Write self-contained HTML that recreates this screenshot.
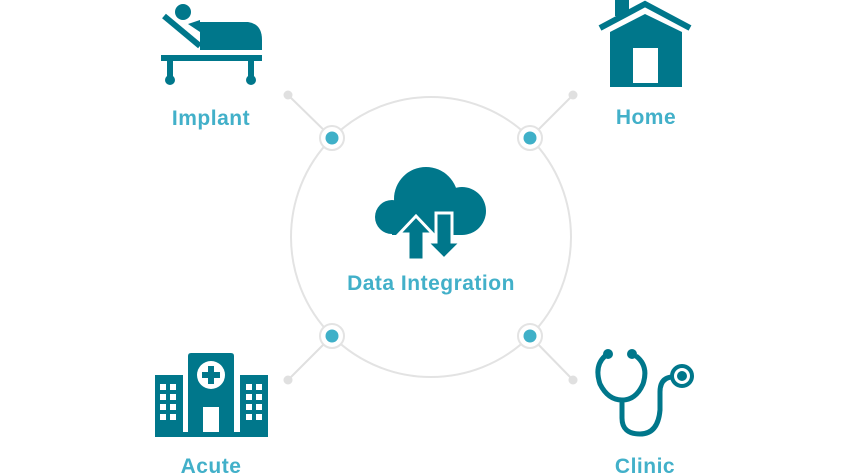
<!DOCTYPE html>
<html><head><style>body{margin:0;background:#fff}svg{display:block}text{font-family:"Liberation Sans",sans-serif;font-weight:bold;fill:#42b0c9;font-size:21px;letter-spacing:0.5px;text-anchor:middle}</style></head>
<body>
<svg width="850" height="474" viewBox="0 0 850 474">
<circle cx="431" cy="237" r="140" fill="none" stroke="#e3e3e3" stroke-width="2"/>
<g stroke="#e0e0e0" stroke-width="2">
<line x1="288" y1="95" x2="332" y2="138"/><line x1="573" y1="95" x2="530" y2="138"/>
<line x1="288" y1="380" x2="332" y2="336"/><line x1="573" y1="380" x2="530" y2="336"/>
</g>
<g fill="#e0e0e0"><circle cx="288" cy="95" r="4.5"/><circle cx="573" cy="95" r="4.5"/><circle cx="288" cy="380" r="4.5"/><circle cx="573" cy="380" r="4.5"/></g>
<g fill="#fff" stroke="#e3e3e3" stroke-width="2"><circle cx="332" cy="138" r="12"/><circle cx="530" cy="138" r="12"/><circle cx="332" cy="336" r="12"/><circle cx="530" cy="336" r="12"/></g>
<g fill="#3fb0c8"><circle cx="332" cy="138" r="6.5"/><circle cx="530" cy="138" r="6.5"/><circle cx="332" cy="336" r="6.5"/><circle cx="530" cy="336" r="6.5"/></g>
<g fill="#00778b">
<circle cx="183" cy="12" r="8"/>
<line x1="164" y1="16" x2="200" y2="46" stroke="#00778b" stroke-width="6"/>
<path d="M188 24 L200 20 L200 32 Z"/>
<path d="M200 22 H248 Q262 24 262 40 V50 H200 Z"/>
<rect x="161" y="55" width="101" height="6"/>
<rect x="167" y="61" width="6" height="17"/><circle cx="170" cy="80" r="5"/>
<rect x="248" y="61" width="6" height="17"/><circle cx="251" cy="80" r="5"/>
<rect x="615" y="0" width="14" height="16"/>
<polyline points="600,28 645,4 690,28" fill="none" stroke="#00778b" stroke-width="6"/>
<path d="M610 32 L645 14 L682 32 V87 H610 Z"/>
<rect x="633" y="48" width="25" height="35" fill="#fff"/>
<circle cx="392" cy="217" r="17"/><circle cx="426" cy="199" r="32"/><circle cx="462" cy="211" r="24"/>
<rect x="392" y="205" width="70" height="30"/>
<path d="M399 234 L416 216 L433 234 H424 V260 H408 V234 Z" stroke="#fff" stroke-width="3"/>
<path d="M436 213 H452 V242 H461 L444 259 L427 242 H436 Z" stroke="#fff" stroke-width="3"/>
<path d="M188 356 Q188 353 191 353 H231 Q234 353 234 356 V432 H188 Z"/>
<rect x="155" y="375" width="28" height="62"/><rect x="240" y="375" width="28" height="62"/>
<rect x="183" y="432" width="57" height="5"/>
<circle cx="211" cy="375" r="14" fill="#fff"/>
<rect x="208" y="366" width="6" height="18"/><rect x="202" y="372" width="18" height="6"/>
<rect x="203" y="407" width="16" height="25" fill="#fff"/>
<g fill="#fff">
<rect x="160" y="384" width="6" height="6"/><rect x="170" y="384" width="6" height="6"/>
<rect x="160" y="394" width="6" height="6"/><rect x="170" y="394" width="6" height="6"/>
<rect x="160" y="404" width="6" height="6"/><rect x="170" y="404" width="6" height="6"/>
<rect x="160" y="414" width="6" height="6"/><rect x="170" y="414" width="6" height="6"/>
<rect x="246" y="384" width="6" height="6"/><rect x="256" y="384" width="6" height="6"/>
<rect x="246" y="394" width="6" height="6"/><rect x="256" y="394" width="6" height="6"/>
<rect x="246" y="404" width="6" height="6"/><rect x="256" y="404" width="6" height="6"/>
<rect x="246" y="414" width="6" height="6"/><rect x="256" y="414" width="6" height="6"/>
</g>
<circle cx="608" cy="354" r="5"/><circle cx="632" cy="354" r="5"/>
<path d="M605 356 Q594 366 600 384 Q608 400 622 400 Q636 400 643 384 Q649 366 636 356 M622 400 V418 Q622 434 640 434 Q658 434 660 410 V392 Q660 378 672 377" fill="none" stroke="#00778b" stroke-width="5"/>
<circle cx="682" cy="376" r="10" fill="none" stroke="#00778b" stroke-width="4"/>
<circle cx="682" cy="376" r="5"/>
</g>
<text x="211" y="125">Implant</text>
<text x="646" y="124">Home</text>
<text x="431" y="290">Data Integration</text>
<text x="211" y="473">Acute</text>
<text x="645" y="473">Clinic</text>
</svg>
</body></html>
